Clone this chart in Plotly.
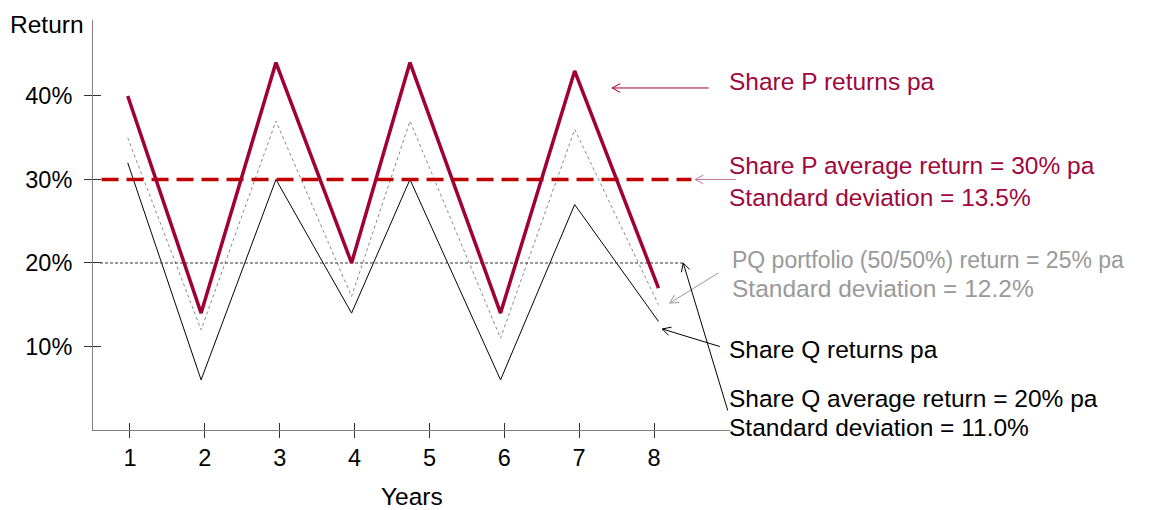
import math

import plotly.graph_objects as go

# data
years = [0.97, 1.95, 2.95, 3.96, 4.74, 5.95, 6.94, 8.06]
share_p = [40, 14, 44, 20, 44, 14, 43, 17]
share_q = [32, 6, 30, 14, 30, 6, 27, 13]
portfolio_pq = [35, 12, 37, 16, 37, 11, 36, 15]
p_avg_span = [0.62, 8.50]
p_avg = 30
q_avg_span = [0.60, 8.39]
q_avg = 20
year_ticks = [1, 2, 3, 4, 5, 6, 7, 8]
return_ticks = [10, 20, 30, 40]
return_labels = ["10%", "20%", "30%", "40%"]

P_COLOR = "#A00034"
P_TEXT = "#A0073C"
P_AVG_COLOR = "#C00000"
GREY = "#999999"
FONT = "Liberation Sans, Arial, sans-serif"
FS = 24.5

fig = go.Figure()
fig.add_trace(go.Scatter(x=years, y=share_q, mode="lines",
                         line=dict(color="black", width=1), name="Share Q"))
fig.add_trace(go.Scatter(x=years, y=portfolio_pq, mode="lines",
                         line=dict(color="#888888", width=1, dash="3px,3px"),
                         name="PQ portfolio"))
fig.add_trace(go.Scatter(x=q_avg_span, y=[q_avg, q_avg], mode="lines",
                         line=dict(color="#333333", width=1, dash="3px,2px"),
                         name="Q average"))
fig.add_trace(go.Scatter(x=p_avg_span, y=[p_avg, p_avg], mode="lines",
                         line=dict(color=P_AVG_COLOR, width=3.5, dash="17px,8px"),
                         name="P average"))
fig.add_trace(go.Scatter(x=years, y=share_p, mode="lines",
                         line=dict(color=P_COLOR, width=3.5), name="Share P"))
# empty trace so the overlay axes (inner half of the crossing ticks) get drawn
fig.add_trace(go.Scatter(x=[], y=[], xaxis="x2", yaxis="y2", showlegend=False,
                         hoverinfo="skip"))

x_range = [0.506, 9.015]
y_range = [0, 49.1]

# the page body has an 8px margin, so the figure margins are reduced by 8
fig.update_layout(
    width=1157, height=510,
    margin=dict(l=85, r=435, t=12, b=88),
    plot_bgcolor="white", paper_bgcolor="white",
    showlegend=False,
    font=dict(family=FONT, size=23.5, color="black"),
    xaxis=dict(range=x_range, tickvals=year_ticks, ticks="outside", ticklen=7,
               tickcolor="#333333", showline=True, linecolor="#808080",
               showgrid=False, zeroline=False),
    yaxis=dict(range=y_range, tickvals=return_ticks, ticktext=return_labels,
               ticks="outside", ticklen=8, tickcolor="#333333", showline=True,
               linecolor="#808080", showgrid=False, zeroline=False,
               ticklabelstandoff=7),
    xaxis2=dict(range=x_range, overlaying="x", anchor="y2", tickvals=year_ticks,
                ticks="inside", ticklen=7, tickcolor="#333333",
                showticklabels=False, showline=False, showgrid=False,
                zeroline=False),
    yaxis2=dict(range=y_range, overlaying="y", anchor="x2", tickvals=return_ticks,
                ticks="inside", ticklen=8, tickcolor="#333333",
                showticklabels=False, showline=False, showgrid=False,
                zeroline=False),
)

# arrows: head in data units, tail as pixel offset from the head
arrows = [
    (7.44, 40.96, 98, 0, P_COLOR),
    (8.55, 30.0, 42, 0, "#C8789A"),
    (8.21, 15.2, 50, -31, GREY),
    (8.11, 12.1, 59, 18, "black"),
    (8.39, 20.0, 45, 149, "black"),
]
ARM = 11
SPREAD = math.radians(28)
for hx, hy, dx, dy, col in arrows:
    fig.add_annotation(x=hx, y=hy, ax=dx, ay=dy, xref="x", yref="y",
                       text="", showarrow=True, arrowhead=0, arrowwidth=1,
                       arrowcolor=col)
    ang = math.atan2(dy, dx)
    for s in (-SPREAD, SPREAD):
        fig.add_annotation(x=hx, y=hy, xref="x", yref="y",
                           ax=ARM * math.cos(ang + s), ay=ARM * math.sin(ang + s),
                           text="", showarrow=True, arrowhead=0, arrowwidth=1,
                           arrowcolor=col)

# text labels: x in paper units (1.0 = right end of the x axis), y in data units
labels = [
    ("Share P returns pa", 0.995, 41.7, P_TEXT, FS),
    ("Share P average return = 30% pa", 0.995, 31.7, P_TEXT, FS),
    ("Standard deviation = 13.5%", 0.995, 27.9, P_TEXT, FS),
    ("PQ portfolio (50/50%) return = 25% pa", 1.0, 20.4, GREY, 23),
    ("Standard deviation = 12.2%", 1.0, 16.9, GREY, FS),
    ("Share Q returns pa", 0.995, 9.7, "black", FS),
    ("Share Q average return = 20% pa", 0.995, 3.8, "black", FS),
    ("Standard deviation = 11.0%", 0.995, 0.25, "black", FS),
]
for txt, x, y, col, size in labels:
    fig.add_annotation(x=x, y=y, xref="paper", yref="y", text=txt,
                       showarrow=False, xanchor="left", yanchor="middle",
                       font=dict(family=FONT, size=size, color=col))

fig.add_annotation(x=-0.133, y=0.99, xref="paper", yref="paper", text="Return",
                   showarrow=False, xanchor="left", yanchor="middle",
                   font=dict(family=FONT, size=FS, color="black"))
fig.add_annotation(x=0.5, y=-0.163, xref="paper", yref="paper", text="Years",
                   showarrow=False, xanchor="center", yanchor="middle",
                   font=dict(family=FONT, size=FS, color="black"))

fig.write_html("out.html")
